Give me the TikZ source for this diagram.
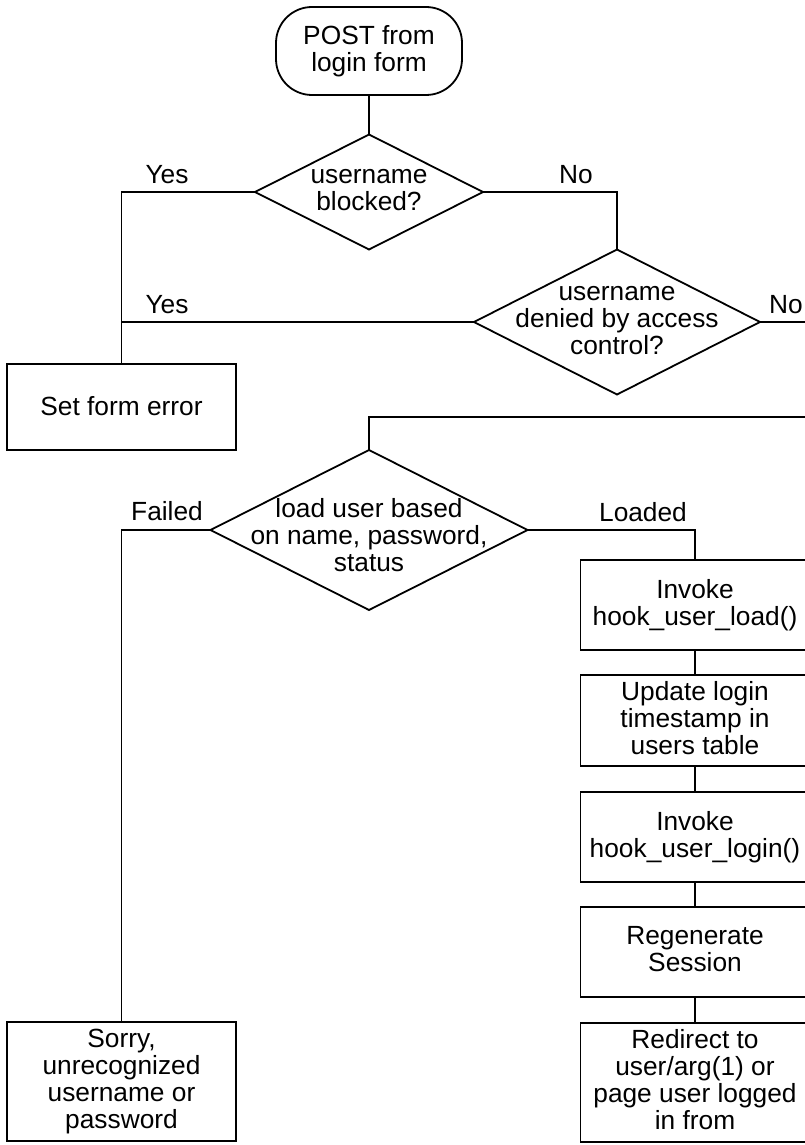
\documentclass[tikz,border=0pt]{standalone}
\usepackage{fontspec}
\setmainfont{Liberation Sans}
\usetikzlibrary{shapes.geometric}
\newcommand\fstrut{\vrule width0pt height21.5pt depth5.5pt}
\begin{document}
\begin{tikzpicture}[x=1pt,y=-1pt,
  line width=1.8pt,
  every node/.style={font=\fontsize{26.3}{27}\selectfont, inner sep=0pt, outer sep=0pt},
  txt/.style={align=center, execute at begin node=\fstrut, execute at end node=\fstrut},
  box/.style={draw, rectangle, txt},
  startbox/.style={draw, rectangle, rounded corners=36pt, txt},
  dia/.style={draw, diamond},
  lbl/.style={anchor=base},
]
\useasboundingbox (0,0) rectangle (805,1145);
\clip (0,0) rectangle (805,1145);

% nodes
\node[startbox, minimum width=186, minimum height=88] (start) at (369,51) {POST from\\login form};
\node[dia, minimum width=228, minimum height=115] (d1) at (369,192) {};
\node[txt] (d1t) at (369,193) {username\\blocked?};
\node[dia, minimum width=286, minimum height=145] (d2) at (617,322) {};
\node[txt] (d2t) at (617,323) {username\\denied by access\\control?};
\node[box, minimum width=229, minimum height=86] (err) at (121.5,407) {Set form error};
\coordinate (j1) at (369,417);
\coordinate (r1) at (812,417);
\coordinate (r2) at (812,322);
\node[dia, minimum width=317, minimum height=160] (d3) at (369,530) {};
\node[txt] (d3t) at (369,538) {load user based\\on name, password,\\status};

\node[box, minimum width=229, minimum height=90] (b1) at (695,605) {Invoke\\hook\_user\_load()};
\node[box, minimum width=229, minimum height=91] (b2) at (695,720.5) {Update login\\timestamp in\\users table};
\node[box, minimum width=229, minimum height=90] (b3) at (695,837) {Invoke\\hook\_user\_login()};
\node[box, minimum width=229, minimum height=90] (b4) at (695,952) {Regenerate\\Session};
\node[box, minimum width=229, minimum height=119] (b5) at (695,1082.5) {Redirect to\\user/arg(1) or\\page user logged\\in from};
\node[box, minimum width=229, minimum height=119] (sorry) at (121.5,1081.5) {Sorry,\\unrecognized\\username or\\password};

% connectors
\draw (start.south) -- (d1.north);
\draw (d1.west) -| (err.north);
\draw (d1.east) -| (d2.north);
\draw (d2.west) -- (d2.west -| err.north);
\draw (d2.east) -- (r2);
\draw (r1) -- (j1) -- (d3.north);
\draw (d3.west) -| (sorry.north);
\draw (d3.east) -| (b1.north);
\draw (b1.south) -- (b2.north);
\draw (b2.south) -- (b3.north);
\draw (b3.south) -- (b4.north);
\draw (b4.south) -- (b5.north);

% labels
\node[lbl] (l1) at (167,183) {Yes};
\node[lbl] (l2) at (576,183) {No};
\node[lbl] (l3) at (167,313) {Yes};
\node[lbl] (l4) at (786,313) {No};
\node[lbl] (l5) at (167,520) {Failed};
\node[lbl] (l6) at (643,521) {Loaded};
\end{tikzpicture}
\end{document}
